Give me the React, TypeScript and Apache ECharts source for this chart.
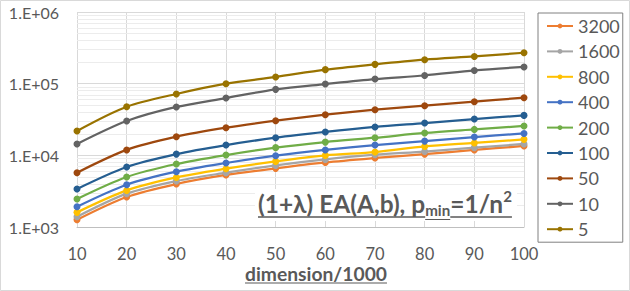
import React, { useEffect, useRef } from "react";
import * as echarts from "echarts";

const categories = ["10", "20", "30", "40", "50", "60", "70", "80", "90", "100"];
const seriesNames = ["3200", "1600", "800", "400", "200", "100", "50", "10", "5"];
const seriesColors = ["#ED7D31", "#A5A5A5", "#FFC000", "#4472C4", "#70AD47", "#255E91", "#9E480E", "#636363", "#997300"];

const s3200 = [1260, 2620, 3980, 5320, 6580, 7960, 9180, 10400, 11900, 13500];
const s1600 = [1390, 2920, 4380, 5720, 7240, 8770, 10200, 11300, 12800, 14400];
const s800 = [1600, 3240, 4920, 6510, 8230, 9980, 11100, 13300, 14900, 16700];
const s400 = [1920, 3890, 5910, 7820, 9880, 11900, 13900, 15800, 18000, 20200];
const s200 = [2460, 4990, 7570, 10100, 12800, 15300, 17600, 20500, 23000, 25700];
const s100 = [3390, 6870, 10400, 13900, 17600, 21200, 24900, 28200, 32100, 36100];
const s50 = [5720, 11900, 18200, 24300, 30400, 36900, 43300, 49200, 56000, 63700];
const s10 = [14400, 30100, 47300, 63000, 83300, 98900, 116000, 130000, 153000, 171000];
const s5 = [21900, 47700, 71800, 100000, 124000, 157000, 186000, 216000, 240000, 270000];
const seriesValues = [s3200, s1600, s800, s400, s200, s100, s50, s10, s5];

const minorGridValues = [
  2000, 3000, 4000, 5000, 6000, 7000, 8000, 9000,
  20000, 30000, 40000, 50000, 60000, 70000, 80000, 90000,
  200000, 300000, 400000, 500000, 600000, 700000, 800000, 900000,
];

const titleMain = "(1+λ) EA(A,b), p";
const titleSub = "min";
const titleTail = "=1/n";
const titleSup = "2";
const xName = "dimension/1000";

const FONT = "Lato, 'Open Sans', sans-serif";
const TXT = "#595959";

function measure(ctx: CanvasRenderingContext2D, text: string, size: number) {
  ctx.font = `bold ${size}px ${FONT}`;
  return ctx.measureText(text).width;
}

export default function App() {
  const ref = useRef<HTMLDivElement>(null);
  useEffect(() => {
    document.body.style.margin = "0";
    const ctx = document.createElement("canvas").getContext("2d")!;

    // Title: fit to reference width (258 -> 512)
    const SUBR = 0.62;
    const base = 20;
    const wA0 = measure(ctx, titleMain, base);
    const wS0 = measure(ctx, titleSub, base * SUBR);
    const wB0 = measure(ctx, titleTail, base);
    const wP0 = measure(ctx, titleSup, base * SUBR);
    const tSize = (254 / (wA0 + wS0 + wB0 + wP0)) * base;
    const sSize = tSize * SUBR;
    const wA = measure(ctx, titleMain, tSize);
    const wS = measure(ctx, titleSub, sSize);
    const wB = measure(ctx, titleTail, tSize);
    const wP = measure(ctx, titleSup, sSize);
    const tx = 258;
    const tLine = Math.round(tSize * 1.2);
    const tBaseline = 212;
    const tTop = tBaseline - tLine / 2 - tSize * 0.36;

    // X axis name: fit to 142px, centre 316
    const nSize = (142 / measure(ctx, xName, 20)) * 20;
    const nW = measure(ctx, xName, nSize);
    const nx = 316 - nW / 2;
    const nBaseline = 280.5;
    const nMid = nBaseline - nSize * 0.34;

    const chart = echarts.init(ref.current!, undefined, { renderer: "svg" });
    const series: any[] = [
      {
        name: "_minor",
        type: "line",
        data: categories.map(() => "-"),
        silent: true,
        symbol: "none",
        z: 0,
        markLine: {
          z: 0,
          silent: true,
          symbol: ["none", "none"],
          label: { show: false },
          lineStyle: { color: "#ececec", width: 1, type: "solid" },
          emphasis: { disabled: true },
          data: minorGridValues.map((v) => ({ yAxis: v })),
          animation: false,
        },
      },
      ...seriesNames.map((name, i) => ({
        name,
        type: "line",
        data: seriesValues[i],
        smooth: 0.3,
        symbol: "circle",
        symbolSize: 7,
        showSymbol: true,
        itemStyle: { color: seriesColors[i] },
        lineStyle: { color: seriesColors[i], width: 2.25 },
        z: 2,
      })),
    ];
    chart.setOption({
      animation: false,
      textStyle: { fontFamily: FONT },
      grid: { left: 77, right: 106, top: 12, bottom: 64, containLabel: false },
      xAxis: {
        type: "category",
        data: categories,
        boundaryGap: false,
        axisLine: { lineStyle: { color: "#bfbfbf", width: 1 } },
        axisTick: { show: false },
        axisLabel: { color: TXT, fontSize: 16.5, fontFamily: FONT, margin: 20, lineHeight: 14 },
        splitLine: { show: true, lineStyle: { color: "#d9d9d9", width: 1 } },
      },
      yAxis: {
        type: "log",
        logBase: 10,
        min: 1000,
        max: 1000000,
        axisLine: { show: false },
        axisTick: { show: false },
        axisLabel: {
          color: TXT,
          fontSize: 16,
          fontFamily: FONT,
          margin: 18,
          formatter: (v: number) => "1.E+0" + Math.round(Math.log10(v)),
        },
        splitLine: { show: true, lineStyle: { color: "#d9d9d9", width: 1 } },
      },
      legend: {
        orient: "vertical",
        left: 538,
        top: 13,
        data: seriesNames,
        borderColor: "#808080",
        borderWidth: 1,
        padding: [4, 3, 4, 8],
        itemGap: 7.4,
        itemWidth: 26,
        itemHeight: 6,
        itemTextGap: 2,
        textStyle: { color: TXT, fontSize: 18, fontFamily: FONT, lineHeight: 16 },
      },
      graphic: [
        {
          type: "rect",
          shape: { x: 0.5, y: 0.5, width: 629, height: 290 },
          style: { fill: "none", stroke: "#d9d9d9", lineWidth: 1 },
          silent: true,
        },
        {
          type: "rect",
          shape: { x: 255, y: 189, width: 262, height: 32 },
          style: { fill: "#ffffff" },
          z: 10,
          silent: true,
        },
        {
          type: "text",
          x: tx,
          y: tTop,
          z: 11,
          style: {
            text: `{a|${titleMain}}{sub|${titleSub}}{a|${titleTail}}{sup|${titleSup}}`,
            fill: TXT,
            font: `bold ${tSize}px ${FONT}`,
            rich: {
              a: { fontSize: tSize, fontWeight: "bold", fontFamily: FONT, fill: TXT, lineHeight: tLine },
              sub: { fontSize: sSize, fontWeight: "bold", fontFamily: FONT, fill: TXT, lineHeight: Math.round(sSize), verticalAlign: "bottom" },
              sup: { fontSize: sSize, fontWeight: "bold", fontFamily: FONT, fill: TXT, lineHeight: Math.round(sSize), verticalAlign: "top" },
            },
          },
        },
        {
          type: "line",
          z: 11,
          shape: { x1: tx, y1: 217, x2: tx + wA, y2: 217 },
          style: { stroke: TXT, lineWidth: 1.5 },
        },
        {
          type: "line",
          z: 11,
          shape: { x1: tx + wA, y1: 219.5, x2: tx + wA + wS, y2: 219.5 },
          style: { stroke: TXT, lineWidth: 1 },
        },
        {
          type: "line",
          z: 11,
          shape: { x1: tx + wA + wS, y1: 217, x2: tx + wA + wS + wB + wP, y2: 217 },
          style: { stroke: TXT, lineWidth: 1.5 },
        },
        {
          type: "text",
          x: nx,
          y: nMid,
          style: {
            text: xName,
            fill: TXT,
            fontSize: nSize,
            fontWeight: "bold",
            fontFamily: FONT,
            lineHeight: 15,
            verticalAlign: "middle",
          },
        },
        {
          type: "line",
          shape: { x1: nx, y1: 283, x2: nx + nW, y2: 283 },
          style: { stroke: TXT, lineWidth: 1.2 },
        },
      ],
      series,
    });
    return () => chart.dispose();
  }, []);
  return <div ref={ref} style={{ width: 630, height: 291 }} />;
}
